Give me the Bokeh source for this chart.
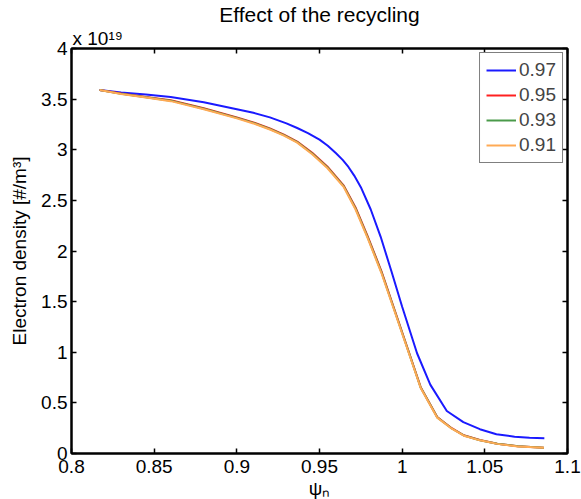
from bokeh.plotting import figure
from bokeh.models import LinearAxis, FixedTicker, Range1d, Title, CustomJSTickFormatter
from bokeh.embed import file_html
from bokeh.resources import INLINE

FONT = "Liberation Sans"

# ---- data (electron density in units of 1e19 #/m^3) ----
series_names = ["0.97", "0.95", "0.93", "0.91"]
series_colors = ["#1a1aff", "#ff2020", "#4a9a4a", "#ffaa55"]

psi_097 = [0.817, 0.83, 0.845, 0.86, 0.88, 0.90, 0.91, 0.92, 0.93, 0.9365, 0.943, 0.95,
           0.955, 0.96, 0.964, 0.9675, 0.971, 0.975, 0.981, 0.987, 0.9935, 1.0, 1.009,
           1.017, 1.027, 1.037, 1.047, 1.057, 1.068, 1.077, 1.086]
ne_097 = [3.59, 3.565, 3.545, 3.52, 3.47, 3.40, 3.365, 3.32, 3.26, 3.215, 3.165, 3.10,
          3.04, 2.965, 2.90, 2.83, 2.745, 2.63, 2.41, 2.14, 1.80, 1.45, 0.99,
          0.68, 0.42, 0.31, 0.24, 0.19, 0.166, 0.155, 0.15]

psi_low = [0.817, 0.83, 0.845, 0.86, 0.88, 0.90, 0.91, 0.92, 0.9285, 0.9365, 0.9456, 0.9547,
           0.9647, 0.9718, 0.9788, 0.9875, 0.9956, 1.0041, 1.0112, 1.0212, 1.03, 1.0373,
           1.047, 1.0575, 1.07, 1.0857]
ne_095 = [3.59, 3.555, 3.52, 3.49, 3.41, 3.32, 3.27, 3.21, 3.15, 3.08, 2.97, 2.835,
          2.645, 2.43, 2.16, 1.80, 1.41, 1.0, 0.655, 0.36, 0.25, 0.18,
          0.133, 0.097, 0.072, 0.058]
ne_093 = [3.59, 3.552, 3.518, 3.485, 3.405, 3.315, 3.265, 3.205, 3.145, 3.075, 2.963, 2.828,
          2.638, 2.42, 2.15, 1.79, 1.402, 0.994, 0.651, 0.357, 0.247, 0.178,
          0.131, 0.096, 0.071, 0.057]
ne_091 = [3.59, 3.55, 3.515, 3.48, 3.40, 3.31, 3.26, 3.20, 3.14, 3.07, 2.956, 2.82,
          2.63, 2.41, 2.14, 1.78, 1.395, 0.988, 0.647, 0.354, 0.245, 0.176,
          0.13, 0.095, 0.07, 0.056]

x_ticks = [0.8, 0.85, 0.9, 0.95, 1.0, 1.05, 1.1]
x_tick_labels = ["0.8", "0.85", "0.9", "0.95", "1", "1.05", "1.1"]
y_ticks = [0.0, 0.5, 1.0, 1.5, 2.0, 2.5, 3.0, 3.5, 4.0]
y_tick_labels = ["0", "0.5", "1", "1.5", "2", "2.5", "3", "3.5", "4"]

p = figure(width=581, height=499, output_backend="svg", toolbar_location=None,
           x_range=Range1d(0.8, 1.1), y_range=Range1d(0, 4),
           min_border_left=71, min_border_right=14, min_border_top=43, min_border_bottom=46)
p.grid.visible = False
p.outline_line_color = "black"
p.outline_line_width = 2
p.background_fill_color = "white"
p.border_fill_color = "white"


def style_axis(ax, show_labels=True):
    ax.axis_line_color = "black"
    ax.axis_line_width = 2
    ax.major_tick_in = 5
    ax.major_tick_out = 0
    ax.major_tick_line_width = 1.5
    ax.major_tick_line_color = "black"
    ax.minor_tick_line_color = None
    ax.major_label_text_font = FONT
    ax.major_label_text_color = "black"
    ax.major_label_text_font_size = "19px"
    if not show_labels:
        ax.formatter = CustomJSTickFormatter(code="return ''")
        ax.major_label_standoff = 0


xax = p.xaxis[0]
xax.ticker = FixedTicker(ticks=x_ticks)
xax.major_label_overrides = dict(zip(x_ticks, x_tick_labels))
style_axis(xax)
xax.major_label_standoff = 6

yax = p.yaxis[0]
yax.ticker = FixedTicker(ticks=y_ticks)
yax.major_label_overrides = dict(zip(y_ticks, y_tick_labels))
style_axis(yax)
yax.major_label_standoff = 4
yax.axis_label = "Electron density [#/m³]"
yax.axis_label_text_font = FONT
yax.axis_label_text_font_size = "19px"
yax.axis_label_text_font_style = "normal"
yax.axis_label_text_color = "black"
yax.axis_label_standoff = 8

top = LinearAxis(ticker=FixedTicker(ticks=x_ticks))
style_axis(top, show_labels=False)
p.add_layout(top, "above")
right = LinearAxis(ticker=FixedTicker(ticks=y_ticks))
style_axis(right, show_labels=False)
p.add_layout(right, "right")

# exponent marker and title (stacked above the frame)
p.add_layout(Title(text="x 10¹⁹", align="left", text_font=FONT, text_font_size="19px",
                   text_font_style="normal", text_color="black", standoff=0, offset=1), "above")
p.add_layout(Title(text="Effect of the recycling", align="center", text_font=FONT,
                   text_font_size="21px", text_font_style="normal", text_color="black",
                   standoff=0), "above")
# x axis label
p.add_layout(Title(text="ψₙ", align="center", text_font=FONT, text_font_size="19px",
                   text_font_style="normal", text_color="black", standoff=1), "below")

xs = [psi_097, psi_low, psi_low, psi_low]
ys = [ne_097, ne_095, ne_093, ne_091]
for x, y, c, n in zip(xs, ys, series_colors, series_names):
    p.line(x, y, line_color=c, line_width=2, legend_label=n)

leg = p.legend[0]
leg.location = "top_right"
leg.margin = 4
leg.padding = 6
leg.spacing = 3
leg.glyph_width = 30
leg.glyph_height = 20
leg.label_height = 20
leg.label_standoff = 3
leg.label_text_font = FONT
leg.label_text_font_size = "19px"
leg.border_line_color = "black"
leg.border_line_width = 1.5
leg.background_fill_color = "white"
leg.background_fill_alpha = 1

open("out.html", "w").write(file_html(p, INLINE))
